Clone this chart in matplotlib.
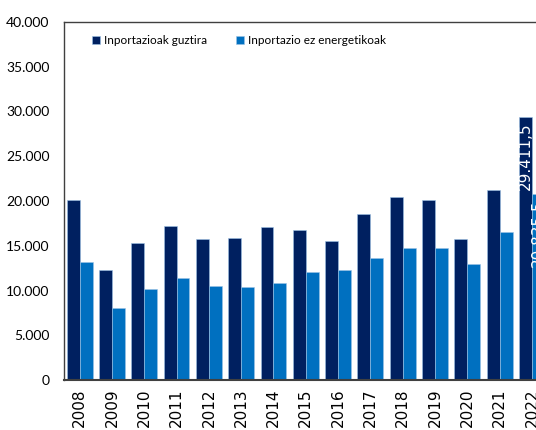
import matplotlib.pyplot as plt
from matplotlib.ticker import FuncFormatter
import numpy as np

# data (millions EUR)
years = ['2008', '2009', '2010', '2011', '2012', '2013', '2014', '2015',
         '2016', '2017', '2018', '2019', '2020', '2021', '2022']
total = [20100, 12250, 15300, 17200, 15750, 15900, 17050, 16750,
         15500, 18600, 20400, 20100, 15800, 21200, 29411.5]
non_energy = [13200, 8050, 10200, 11400, 10500, 10350, 10800, 12100,
              12300, 13600, 14700, 14700, 13000, 16500, 20835.5]
series_names = ['Inportazioak guztira', 'Inportazio ez energetikoak']

dark = '#002060'
light = '#0070C0'
label_font = ['Lato', 'DejaVu Sans']

fig = plt.figure(figsize=(5.36, 4.30), dpi=100)
# axes runs past the right edge like in the reference (last bar is cut)
ax = fig.add_axes([0.1185, 0.116, 0.904, 0.833])

x = np.arange(len(years))
w = 0.4
b1 = ax.bar(x - w / 2, total, w, color=dark, edgecolor='#9dc3e6', linewidth=0.4,
            label=series_names[0])
b2 = ax.bar(x + w / 2, non_energy, w, color=light, edgecolor='#9dc3e6', linewidth=0.4,
            label=series_names[1])

def eu_fmt(v, decimals=0):
    s = f"{v:,.{decimals}f}"
    return s.replace(',', 'X').replace('.', ',').replace('X', '.')

# labels for the last year, written inside the bars
for bars, vals in [(b1, total), (b2, non_energy)]:
    r = bars[-1]
    ax.text(r.get_x() + r.get_width() / 2, vals[-1] - 600, eu_fmt(vals[-1], 1),
            rotation=90, ha='center', va='top', color='white', fontsize=11)

ax.set_xlim(-0.5, len(years) - 0.5)
ax.set_ylim(0, 40000)
ax.set_yticks(np.arange(0, 40001, 5000))
ax.yaxis.set_major_formatter(FuncFormatter(lambda v, p: eu_fmt(v)))
ax.set_xticks(x)
ax.set_xticklabels(years, rotation=90, fontsize=11)
for t in ax.get_yticklabels():
    t.set_fontfamily(label_font)
    t.set_fontsize(10)
ax.tick_params(axis='both', length=0, pad=6)
ax.tick_params(axis='y', pad=10)

for s in ax.spines.values():
    s.set_color('#404040')
    s.set_linewidth(1.0)
ax.spines['bottom'].set_linewidth(1.5)

ax.legend(loc='upper left', ncol=2, frameon=False, bbox_to_anchor=(0.037, 0.993),
          prop={'family': label_font, 'size': 8.5}, handlelength=0.7, handleheight=0.7,
          handletextpad=0.35, columnspacing=2.4)

fig.savefig('out.png', dpi=100)
